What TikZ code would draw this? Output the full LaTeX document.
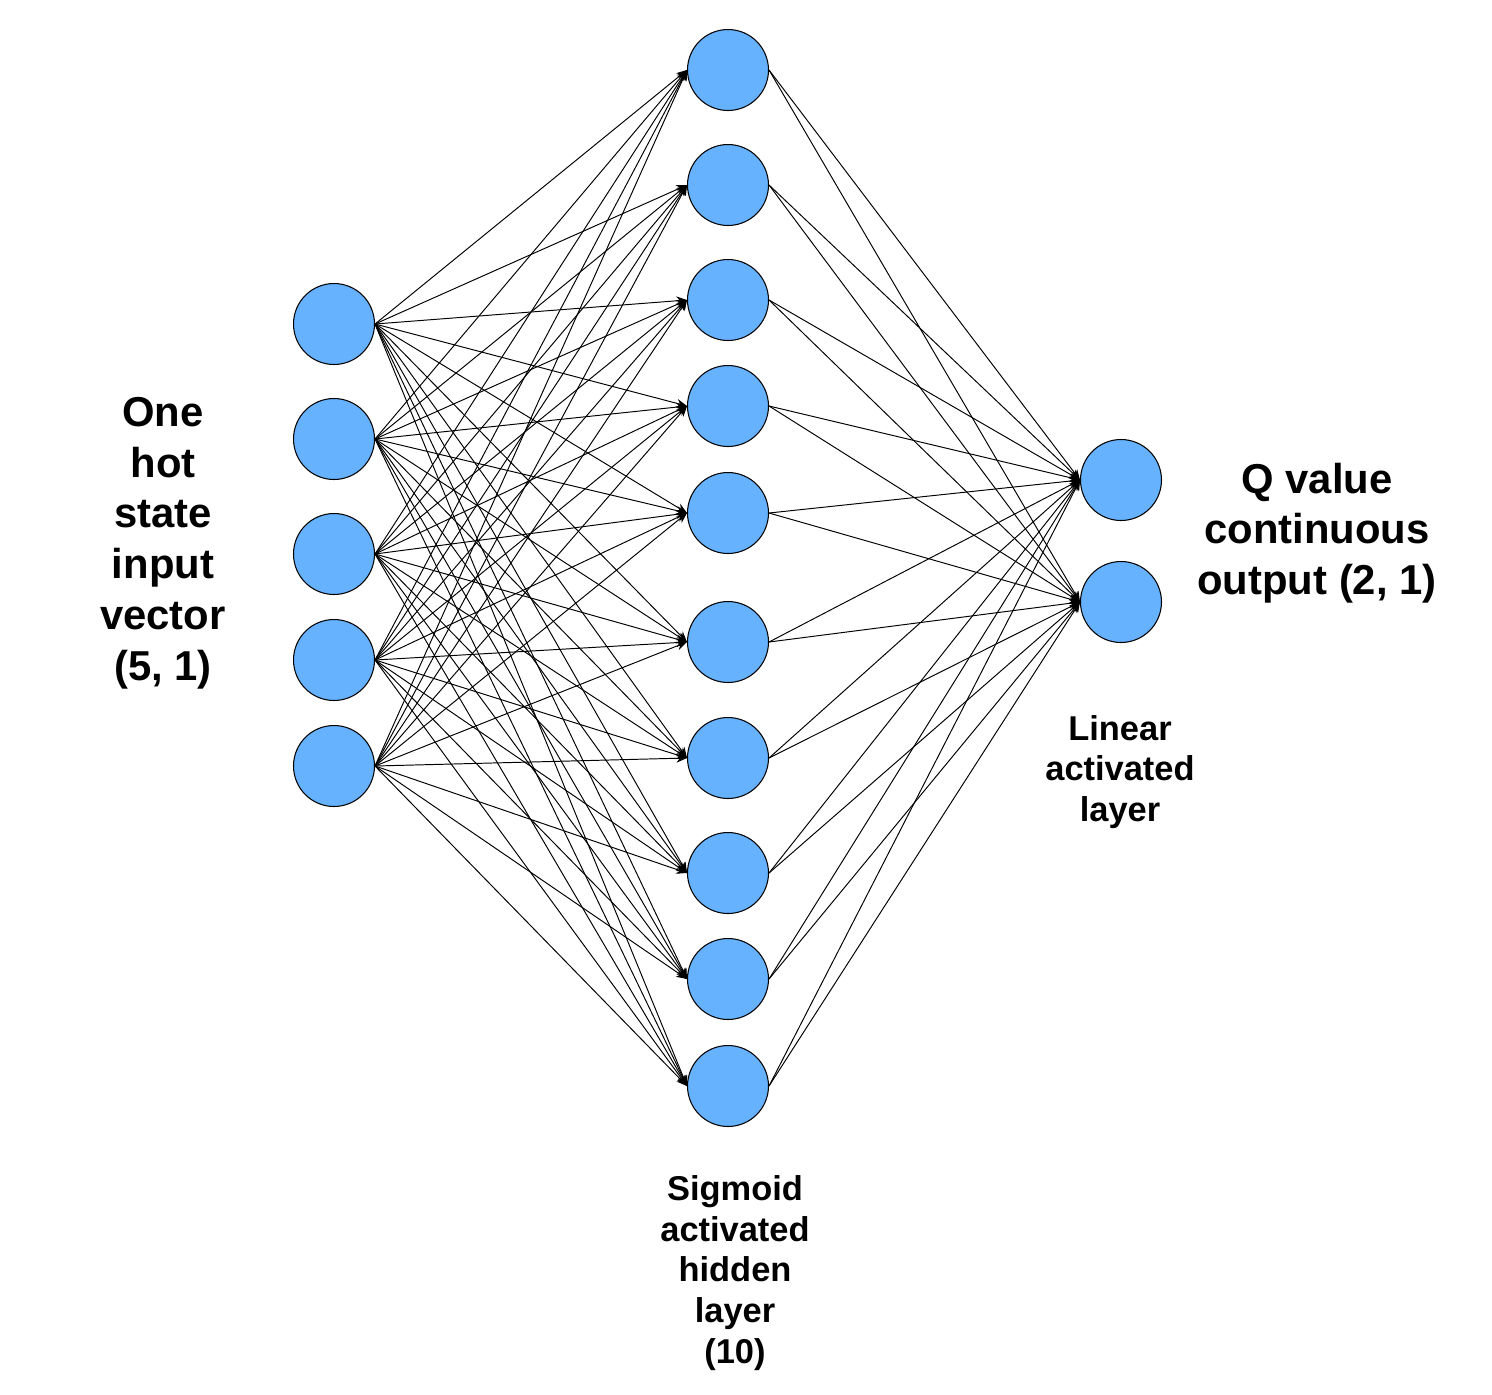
\documentclass[tikz,border=0pt]{standalone}
\usepackage{fontspec}
\setmainfont{Liberation Sans}
\usetikzlibrary{arrows.meta}
\begin{document}
\begin{tikzpicture}[x=0.02cm,y=-0.02cm,
  neuron/.style={circle,draw=black,line width=0.6pt,fill={rgb,255:red,102;green,178;blue,255},minimum size=1.62cm,inner sep=0pt},
  conn/.style={line width=0.55pt,-{Stealth[length=6pt,width=5pt]}},
  bigtxt/.style={align=center,font=\fontsize{23.8}{28.9}\selectfont\bfseries},
  smalltxt/.style={align=center,font=\fontsize{19.6}{23.2}\selectfont\bfseries}]
\useasboundingbox (0,0) rectangle (1492,1394);
\foreach \i/\y in {1/324,2/439,3/554,4/660,5/766}
  \node[neuron] (in\i) at (334,\y) {};
\foreach \i/\y in {1/70,2/185,3/300,4/406,5/513,6/642,7/758,8/873,9/979,10/1086}
  \node[neuron] (h\i) at (728,\y) {};
\foreach \i/\y in {1/480,2/602}
  \node[neuron] (o\i) at (1121,\y) {};
\foreach \i in {1,...,5}
  \foreach \j in {1,...,10}
    \draw[conn] (in\i.east) -- (h\j.west);
\foreach \j in {1,...,10}
  \foreach \k in {1,2}
    \draw[conn] (h\j.east) -- (o\k.west);
\node[bigtxt] (lin) at (163,543) {One\\hot\\state\\input\\vector\\(5, 1)};
\node[bigtxt] (lout) at (1317,533) {Q value\\continuous\\output (2, 1)};
\node[smalltxt] (llin) at (1120,772) {Linear\\activated\\layer};
\node[smalltxt] (lhid) at (735,1273) {Sigmoid\\activated\\hidden\\layer\\(10)};
\end{tikzpicture}
\end{document}
